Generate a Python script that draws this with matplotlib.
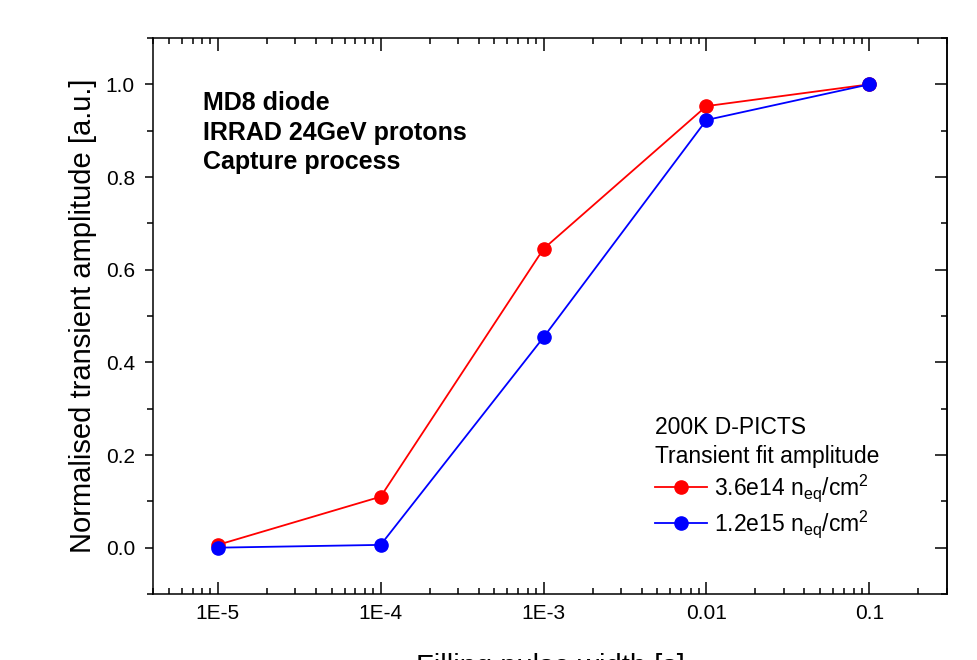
import numpy as np
import matplotlib
matplotlib.use('Agg')
import matplotlib.pyplot as plt
from matplotlib.ticker import LogLocator, FixedLocator, MultipleLocator


plt.rcParams['font.family'] = ['Liberation Sans', 'DejaVu Sans']
plt.rcParams['mathtext.fontset'] = 'custom'
plt.rcParams['mathtext.rm'] = 'Liberation Sans'
plt.rcParams['mathtext.it'] = 'Liberation Sans'

# Filling pulse width [s]
pulse_width = [1e-5, 1e-4, 1e-3, 1e-2, 1e-1]
pulse_labels = ['1E-5', '1E-4', '1E-3', '0.01', '0.1']

# Normalised transient amplitude
amp_36e14 = [0.006, 0.110, 0.645, 0.953, 1.000]
amp_12e15 = [0.000, 0.006, 0.454, 0.923, 1.000]

label_36e14 = r'3.6e14 n$_{\mathregular{eq}}$/cm$^{\mathregular{2}}$'
label_12e15 = r'1.2e15 n$_{\mathregular{eq}}$/cm$^{\mathregular{2}}$'

fig = plt.figure(figsize=(9.78, 6.6), dpi=100)
ax = fig.add_axes([0.1564, 0.1, 0.8119, 0.8424])

ax.plot(pulse_width, amp_36e14, color='#ff0000', lw=1.3, marker='o',
        markersize=9.5, label=label_36e14)
ax.plot(pulse_width, amp_12e15, color='#0000ff', lw=1.3, marker='o',
        markersize=9.5, label=label_12e15)

ax.set_xscale('log')
ax.set_xlim(4e-6, 0.3)
ax.set_ylim(-0.1, 1.1)

ax.xaxis.set_major_locator(FixedLocator(pulse_width))
ax.set_xticklabels(pulse_labels)
ax.xaxis.set_minor_locator(LogLocator(base=10, subs=np.arange(2, 10), numticks=20))
ax.xaxis.set_minor_formatter(plt.NullFormatter())
ax.yaxis.set_major_locator(MultipleLocator(0.2))
ax.yaxis.set_minor_locator(MultipleLocator(0.1))
ax.yaxis.set_major_formatter(plt.FuncFormatter(lambda v, p: '%.1f' % v))

for sp in ax.spines.values():
    sp.set_linewidth(1.1)

# Origin-style ticks: x both sides inward, left outward, right inward
ax.tick_params(axis='x', which='both', direction='in', top=True, bottom=True,
               width=1.1, labelsize=15, pad=7)
ax.tick_params(axis='x', which='major', length=9)
ax.tick_params(axis='x', which='minor', length=4)
ax.tick_params(axis='y', which='both', left=True, right=False, direction='out',
               width=1.1, labelsize=15, pad=7)
ax.tick_params(axis='y', which='major', length=6)
ax.tick_params(axis='y', which='minor', length=4)

# inward ticks on the right spine
ax_r = ax.secondary_yaxis('right')
ax_r.yaxis.set_major_locator(MultipleLocator(0.2))
ax_r.yaxis.set_minor_locator(MultipleLocator(0.1))
ax_r.tick_params(axis='y', which='both', direction='in', width=1.1, labelright=False)
ax_r.tick_params(axis='y', which='major', length=9)
ax_r.tick_params(axis='y', which='minor', length=4)
ax_r.spines['right'].set_linewidth(1.1)

ax.set_ylabel('Normalised transient amplitude [a.u.]', fontsize=21, labelpad=6)
ax.set_xlabel('Filling pulse width [s]', fontsize=21, labelpad=22)

ax.text(0.063, 0.905, 'MD8 diode\nIRRAD 24GeV protons\nCapture process',
        transform=ax.transAxes, fontsize=18, fontweight='bold',
        va='top', ha='left', linespacing=1.3)

leg = ax.legend(loc='lower left', bbox_to_anchor=(0.632, 0.097), frameon=False,
                fontsize=16.5, title='200K D-PICTS\nTransient fit amplitude',
                title_fontsize=16.5, alignment='left', handlelength=2.3,
                handletextpad=0.3, labelspacing=0.2, borderpad=0,
                borderaxespad=0)
leg.get_title().set_linespacing(1.3)

fig.savefig('out.png', dpi=100)
